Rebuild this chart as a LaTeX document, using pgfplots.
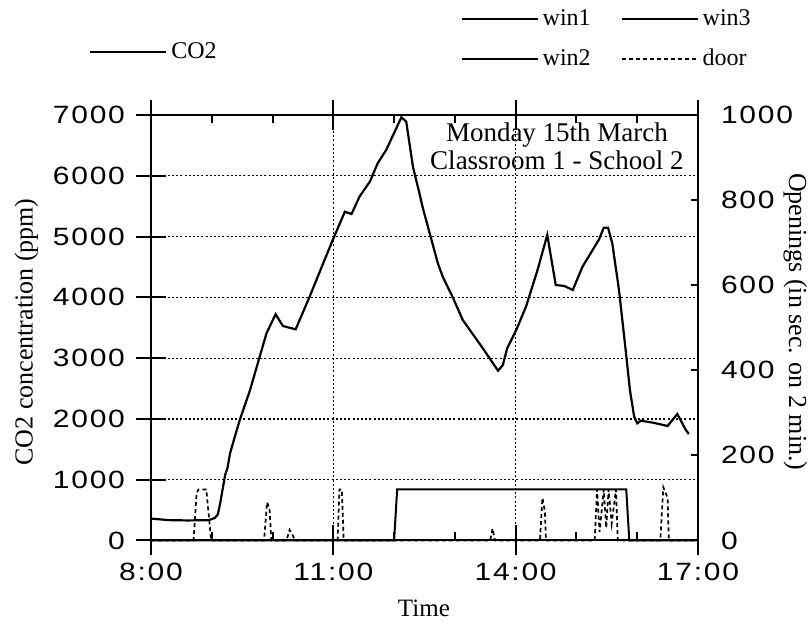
\documentclass[border=0pt]{standalone}
\usepackage{fontspec}
\setmainfont{Liberation Serif}
\newfontfamily\tickfont[FakeStretch=1.2, LetterSpace=7]{Liberation Sans}
\usepackage{pgfplots}
\usepackage{pgfplotstable}
\pgfplotsset{compat=1.18}

\pgfplotstableread{
t co2
8.00 360
8.30 335
8.60 330
8.95 335
9.05 370
9.10 430
9.14 620
9.18 850
9.22 1080
9.26 1200
9.30 1430
9.38 1710
9.46 1980
9.63 2476
9.90 3408
10.05 3721
10.17 3529
10.38 3474
10.61 4011
10.80 4478
10.99 4943
11.19 5409
11.30 5371
11.43 5656
11.60 5902
11.73 6205
11.87 6425
12.12 6962
12.20 6889
12.31 6149
12.42 5700
12.47 5480
12.72 4560
12.80 4340
12.96 4011
13.13 3627
13.46 3162
13.71 2793
13.79 2887
13.86 3162
14.01 3463
14.17 3846
14.36 4450
14.52 5026
14.66 4203
14.80 4187
14.94 4121
15.10 4504
15.37 4950
15.45 5146
15.52 5146
15.59 4889
15.70 4121
15.81 3134
15.88 2476
15.95 2037
16.00 1928
16.06 1971
16.26 1938
16.50 1884
16.66 2081
16.80 1818
16.85 1752
}\cotable

\pgfplotstableread{
t v
8.00 0
12.00 0
12.05 120
15.82 120
15.87 0
17.00 0
}\winone

\pgfplotstableread{
t v
8.00 0
17.00 0
}\wintwo

\pgfplotstableread{
t v
8.00 0
17.00 0
}\winthree

\pgfplotstableread{
t v
8.00 0
8.70 0
8.75 110
8.78 120
8.91 120
8.99 0
9.86 0
9.91 90
9.95 75
9.98 0
10.23 0
10.28 25
10.34 10
10.37 0
11.07 0
11.10 120
11.14 120
11.17 0
13.58 0
13.62 28
13.66 0
14.40 0
14.44 100
14.48 70
14.50 0
15.30 0
15.34 120
15.38 20
15.45 120
15.49 30
15.53 120
15.58 40
15.65 120
15.68 0
16.38 0
16.43 125
16.50 100
16.52 0
17.00 0
}\door

\begin{document}
\begin{tikzpicture}
\path[use as bounding box] (-75.5pt,-42.25pt) rectangle (329pt,270.25pt);
\pgfplotsset{
  every tick label/.append style={font=\tickfont\fontsize{12.5}{14}\selectfont},
  /pgf/number format/assume math mode=true,
  /pgf/number format/1000 sep={},
  legend image code/.code={\draw[#1] (0pt,0pt) -- (38pt,0pt);},
}
\begin{axis}[
  at={(0,0)}, anchor=south west,
  scale only axis, width=273.5pt, height=212.75pt,
  xmin=8, xmax=17, ymin=0, ymax=7000,
  clip=false,
  xtick={8,11,14,17}, xticklabels={8:00,11:00,14:00,17:00},
  extra x ticks={9,10,12,13,15,16}, extra x tick labels={},
  extra x tick style={tick align=inside, major tick length=4pt, grid=none},
  ytick={0,1000,...,7000},
  ytick pos=left, xtick pos=both,
  tick align=center, major tick length=15pt,
  tick style={black, line width=1pt},
  grid=major,
  major grid style={black, line width=0.6pt, dash pattern=on 1pt off 1.1pt},
  axis line style={line width=1pt},
  yticklabel style={xshift=-2pt},
  xlabel={Time},
  xlabel style={at={(axis description cs:0.499,-0.159)}, anchor=center, font=\fontsize{12.5}{14}\selectfont},
  ylabel={CO2 concentration (ppm)},
  ylabel style={at={(axis description cs:-0.228,0.49)}, anchor=center, rotate=0, font=\fontsize{13}{15}\selectfont},
  legend style={at={(0.007,1.148)}, anchor=center, draw=none, fill=none,
    font=\fontsize{12}{14}\selectfont, legend cell align=left},
]
\addplot[black, line width=1.1pt] table[x=t, y=co2] {\cotable};
\addlegendentry{CO2}
\node[align=center, font=\fontsize{13.5}{14}\selectfont] at (axis cs:14.68,6490)
  {Monday 15th March\\Classroom 1 - School 2};
\end{axis}
\begin{axis}[
  at={(0,0)}, anchor=south west,
  scale only axis, width=273.5pt, height=212.75pt,
  xmin=8, xmax=17, ymin=0, ymax=1000,
  clip=false,
  axis x line=none, axis y line*=right,
  ytick={0,200,...,1000},
  tick align=inside, major tick length=3.5pt,
  tick style={black, line width=1pt},
  axis line style={line width=1pt},
  yticklabel style={xshift=8pt},
  ylabel={Openings (in sec. on 2 min.)},
  ylabel style={at={(axis description cs:1.178,0.514)}, anchor=center, rotate=180, font=\fontsize{13}{15}\selectfont},
  legend columns=2,
  legend style={at={(0.835,1.178)}, anchor=center, draw=none, fill=none,
    font=\fontsize{12}{14}\selectfont, legend cell align=left,
    /tikz/every even column/.append style={column sep=13pt}, row sep=6pt},
]
\addplot[black, line width=1pt] table[x=t, y=v] {\winone};
\addlegendentry{win1}
\addplot[black, line width=1pt] table[x=t, y=v] {\winthree};
\addlegendentry{win3}
\addplot[black, line width=1pt] table[x=t, y=v] {\wintwo};
\addlegendentry{win2}
\addplot[black, line width=0.85pt, dash pattern=on 2pt off 1.5pt] table[x=t, y=v] {\door};
\addlegendentry{door}
\end{axis}
\end{tikzpicture}
\end{document}
